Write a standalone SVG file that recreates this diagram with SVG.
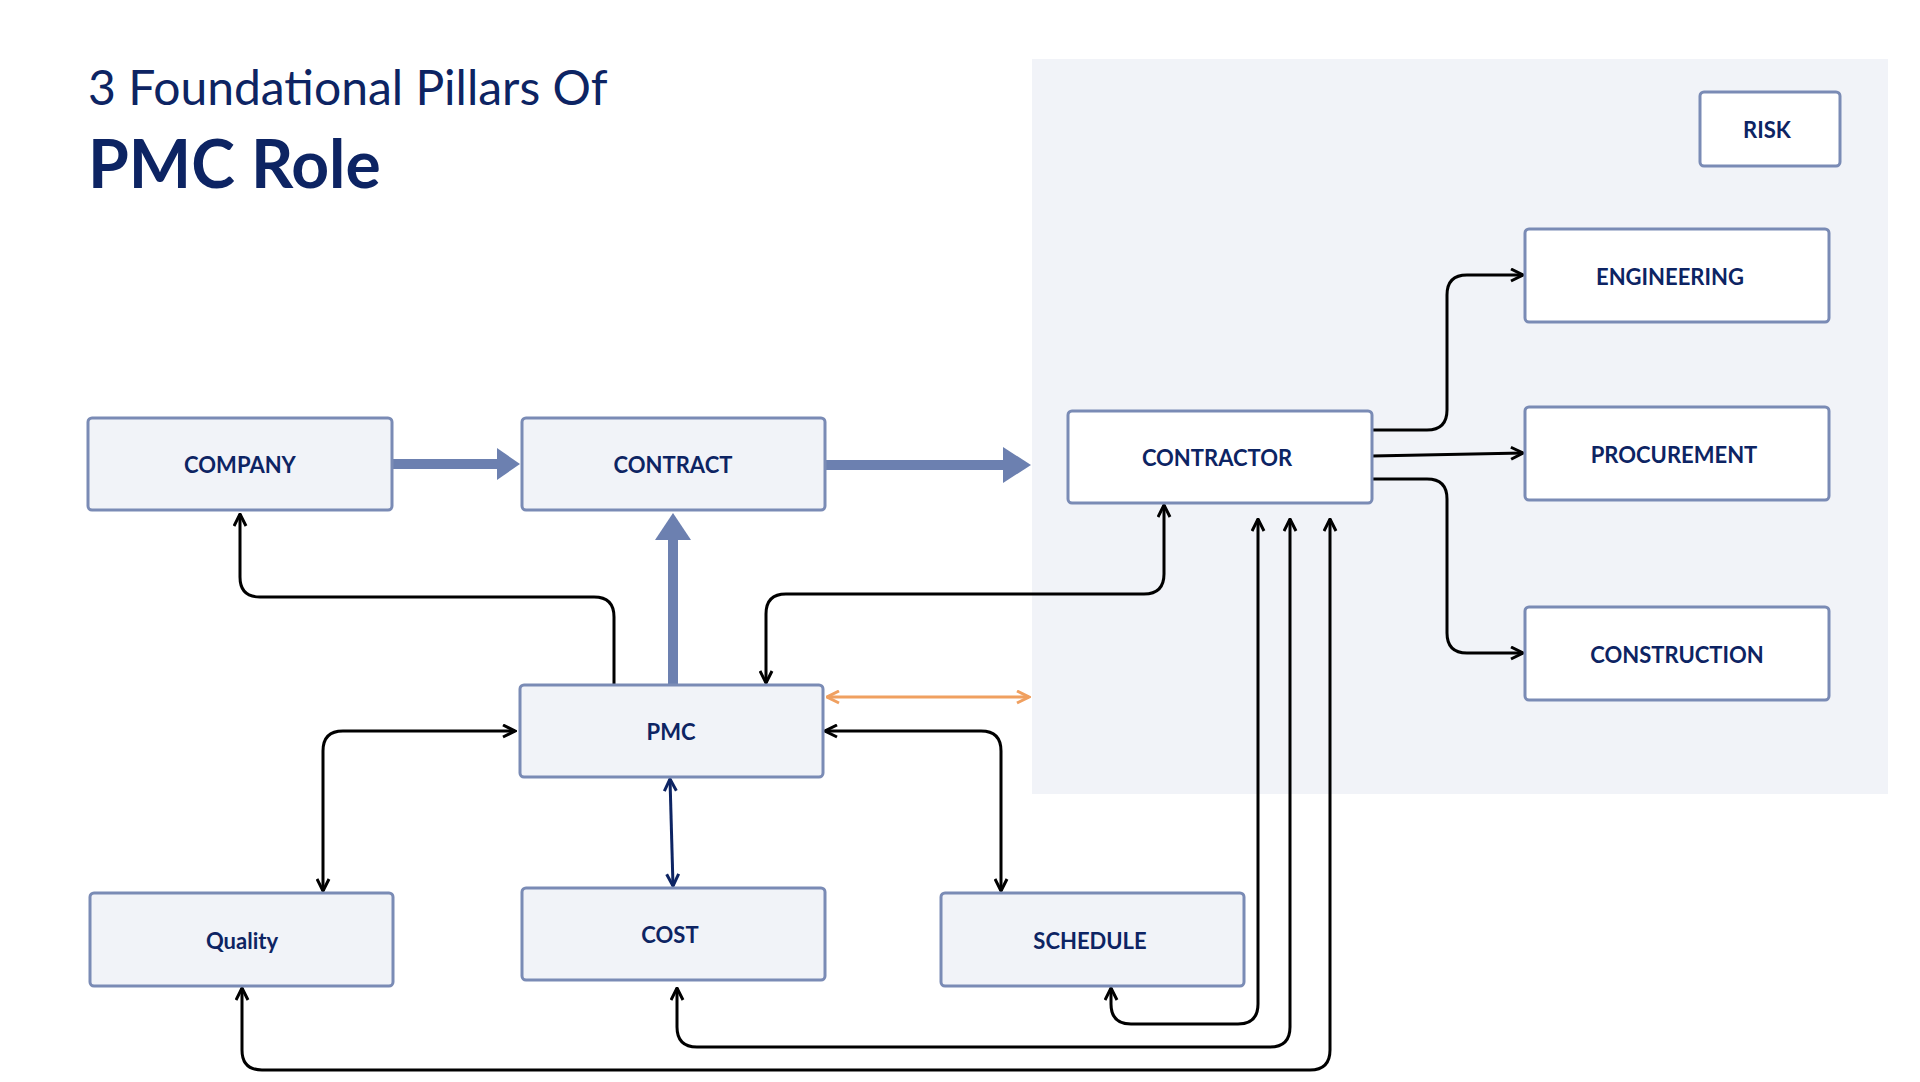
<svg xmlns="http://www.w3.org/2000/svg" width="1920" height="1082" viewBox="0 0 1920 1082">
<style>
.b{fill:#f1f3f8;stroke:#7a8bb5;stroke-width:3}
.w{fill:#fff;stroke:#7a8bb5;stroke-width:3}
.t{font-family:Lato,'Noto Sans',sans-serif;font-weight:bold;font-size:22px;fill:#0d2463;text-anchor:middle;dominant-baseline:central}
.c{fill:none;stroke:#000;stroke-width:3}
.k{fill:#6c80b0}
</style>
<defs>
<marker id="a" viewBox="0 0 10 10" refX="9" refY="5" markerWidth="5" markerHeight="5" orient="auto-start-reverse" markerUnits="strokeWidth"><path d="M1 1L9 5L1 9" fill="none" stroke="#000" stroke-width="2"/></marker>
<marker id="n" viewBox="0 0 10 10" refX="9" refY="5" markerWidth="5" markerHeight="5" orient="auto-start-reverse" markerUnits="strokeWidth"><path d="M1 1L9 5L1 9" fill="none" stroke="#0d2463" stroke-width="2"/></marker>
<marker id="o" viewBox="0 0 10 10" refX="9" refY="5" markerWidth="5" markerHeight="5" orient="auto-start-reverse" markerUnits="strokeWidth"><path d="M1 1L9 5L1 9" fill="none" stroke="#f0a060" stroke-width="2"/></marker>
</defs>
<rect width="1920" height="1082" fill="#fff"/>
<rect x="1032" y="59" width="856" height="735" fill="#f1f3f8"/>
<text x="88" y="105" font-family="Lato,'Noto Sans',sans-serif" font-size="48" fill="#0d2463">3 Foundational Pillars Of</text>
<text x="88" y="188" font-family="Lato,'Noto Sans',sans-serif" font-weight="bold" font-size="66" fill="#0d2463">PMC Role</text>
<g id="connectors">
<line x1="392" y1="464" x2="500" y2="464" stroke="#6c80b0" stroke-width="10"/><polygon class="k" points="497,448 520,464 497,480"/>
<line x1="825" y1="465" x2="1006" y2="465" stroke="#6c80b0" stroke-width="10"/><polygon class="k" points="1003,447 1031,465 1003,483"/>
<line x1="673" y1="685" x2="673" y2="538" stroke="#6c80b0" stroke-width="10"/><polygon class="k" points="655,540 673,513 691,540"/>
<line x1="827" y1="697" x2="1029" y2="697" stroke="#f0a060" stroke-width="3" marker-start="url(#o)" marker-end="url(#o)"/>
<path class="c" d="M614 685V617Q614 597 594 597H260Q240 597 240 577V514" marker-end="url(#a)"/>
<path class="c" d="M1164 505V574Q1164 594 1144 594H786Q766 594 766 614V683" marker-start="url(#a)" marker-end="url(#a)"/>
<path class="c" d="M515 731H343Q323 731 323 751V891" marker-start="url(#a)" marker-end="url(#a)"/>
<path class="c" d="M825 731H981Q1001 731 1001 751V891" marker-start="url(#a)" marker-end="url(#a)"/>
<path d="M670 779L673 886" fill="none" stroke="#0d2463" stroke-width="3" marker-start="url(#n)" marker-end="url(#n)"/>
<path class="c" d="M1372 430H1427Q1447 430 1447 410V295Q1447 275 1467 275H1523" marker-end="url(#a)"/>
<path class="c" d="M1372 456L1523 453" marker-end="url(#a)"/>
<path class="c" d="M1372 479H1427Q1447 479 1447 499V633Q1447 653 1467 653H1523" marker-end="url(#a)"/>
<path class="c" d="M1111 988V1004Q1111 1024 1131 1024H1238Q1258 1024 1258 1004V519" marker-start="url(#a)" marker-end="url(#a)"/>
<path class="c" d="M677 988V1027Q677 1047 697 1047H1270Q1290 1047 1290 1027V519" marker-start="url(#a)" marker-end="url(#a)"/>
<path class="c" d="M242 988V1050Q242 1070 262 1070H1310Q1330 1070 1330 1050V519" marker-start="url(#a)" marker-end="url(#a)"/>
</g>
<g id="company"><rect class="b" x="88" y="418" width="304" height="92" rx="4"/><text class="t" x="240" y="464">COMPANY</text></g>
<g id="contract"><rect class="b" x="522" y="418" width="303" height="92" rx="4"/><text class="t" x="673" y="464">CONTRACT</text></g>
<g id="contractor"><rect class="w" x="1068" y="411" width="304" height="92" rx="4"/><text class="t" x="1217" y="457">CONTRACTOR</text></g>
<g id="risk"><rect class="w" x="1700" y="92" width="140" height="74" rx="4"/><text class="t" x="1767" y="129">RISK</text></g>
<g id="engineering"><rect class="w" x="1525" y="229" width="304" height="93" rx="4"/><text class="t" x="1670" y="276">ENGINEERING</text></g>
<g id="procurement"><rect class="w" x="1525" y="407" width="304" height="93" rx="4"/><text class="t" x="1674" y="454">PROCUREMENT</text></g>
<g id="construction"><rect class="w" x="1525" y="607" width="304" height="93" rx="4"/><text class="t" x="1677" y="654">CONSTRUCTION</text></g>
<g id="pmc"><rect class="b" x="520" y="685" width="303" height="92" rx="4"/><text class="t" x="671" y="731">PMC</text></g>
<g id="quality"><rect class="b" x="90" y="893" width="303" height="93" rx="4"/><text class="t" x="242" y="940">Quality</text></g>
<g id="cost"><rect class="b" x="522" y="888" width="303" height="92" rx="4"/><text class="t" x="670" y="934">COST</text></g>
<g id="schedule"><rect class="b" x="941" y="893" width="303" height="93" rx="4"/><text class="t" x="1090" y="940">SCHEDULE</text></g>
</svg>
